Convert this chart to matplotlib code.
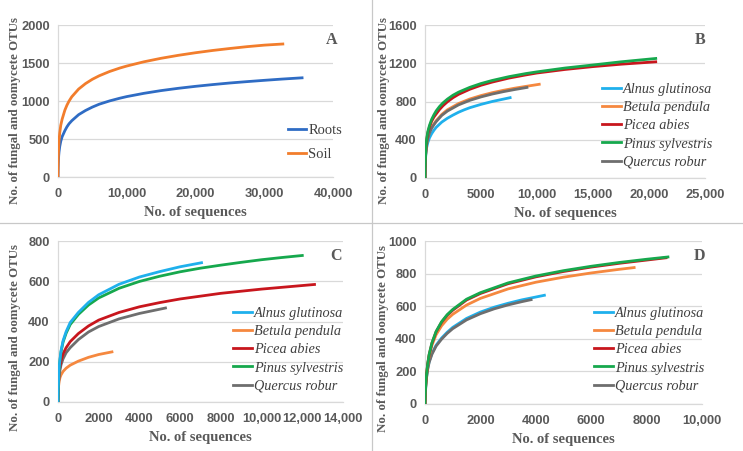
import matplotlib
matplotlib.use("Agg")
import matplotlib.pyplot as plt
from matplotlib.lines import Line2D

# ---- data (x = no. of sequences, y = OTUs) ----
roots_x = [0, 20, 50, 100, 150, 250, 400, 600, 1000, 1300, 1600, 2000, 3000, 4000, 5000, 6000, 7500,
           9000, 10000, 12500, 15000, 17500, 20000, 22500, 25000, 27500, 30000, 32500, 35500]
roots_y = [0, 110, 190, 280, 330, 400, 470, 530, 610, 660, 700, 740, 820, 875, 920, 958, 1001,
           1037, 1058, 1101, 1137, 1167, 1193, 1216, 1237, 1255, 1272, 1288, 1305]
soil_x = [0, 20, 50, 100, 150, 250, 400, 600, 1000, 1300, 1600, 2000, 3000, 4000, 5000, 6000, 7500,
          9000, 10000, 12500, 15000, 17500, 20000, 22500, 25000, 27500, 30000, 32700]
soil_y = [0, 140, 270, 400, 480, 580, 680, 760, 880, 945, 998, 1055, 1157, 1229, 1286, 1332, 1388,
          1434, 1460, 1516, 1562, 1601, 1635, 1665, 1691, 1715, 1735, 1750]

b_alnus_x = [0, 10, 30, 60, 100, 150, 250, 400, 600, 800, 1000, 1500, 2000, 2500, 3000, 3500, 4000,
             5000, 6000, 7000, 7600]
b_alnus_y = [0, 80, 150, 225, 280, 320, 370, 420, 465, 500, 530, 585, 625, 658, 688, 713, 735,
             770, 800, 825, 840]
b_betula_x = [0, 10, 30, 60, 100, 150, 250, 400, 600, 800, 1000, 1500, 2000, 3000, 4000, 5000, 6000,
              7000, 8000, 9000, 10200]
b_betula_y = [0, 90, 160, 250, 310, 360, 420, 480, 530, 565, 600, 665, 713, 779, 826, 862, 892,
              917, 939, 958, 980]
b_picea_x = [0, 10, 30, 60, 100, 150, 250, 400, 600, 800, 1000, 1300, 1600, 2000, 2500, 3000, 4000,
             5000, 6000, 7500, 9000, 10000, 12500, 15000, 17500, 20600]
b_picea_y = [0, 95, 170, 250, 335, 395, 470, 535, 595, 638, 670, 717, 755, 797, 840, 875, 928,
             970, 1003, 1045, 1078, 1098, 1135, 1165, 1190, 1215]
b_pinus_x = [0, 10, 30, 60, 100, 150, 250, 400, 600, 800, 1000, 1300, 1600, 2000, 2500, 3000, 4000,
             5000, 6000, 7500, 9000, 10000, 12500, 15000, 17500, 20600]
b_pinus_y = [0, 100, 175, 260, 350, 410, 485, 550, 615, 662, 702, 748, 785, 825, 866, 898, 948,
             988, 1020, 1060, 1092, 1110, 1150, 1182, 1215, 1250]
b_quercus_x = [0, 10, 30, 60, 100, 150, 250, 400, 600, 800, 1000, 1500, 2000, 3000, 4000, 5000, 6000,
               7000, 8000, 9100]
b_quercus_y = [0, 88, 158, 245, 305, 352, 412, 472, 522, 558, 590, 655, 700, 765, 812, 848, 878,
               903, 925, 947]

c_alnus_x = [0, 10, 30, 60, 100, 150, 250, 400, 600, 1000, 1500, 2000, 3000, 4000, 5000, 6000, 7050]
c_alnus_y = [0, 60, 120, 175, 215, 255, 305, 350, 395, 445, 495, 533, 585, 621, 648, 672, 692]
c_betula_x = [0, 10, 30, 60, 100, 150, 250, 400, 600, 1000, 1500, 2000, 2650]
c_betula_y = [0, 45, 80, 105, 122, 135, 152, 168, 183, 203, 222, 236, 249]
c_picea_x = [0, 10, 30, 60, 100, 150, 250, 400, 600, 1000, 1500, 2000, 3000, 4000, 5000, 6000, 8000,
             10000, 12600]
c_picea_y = [0, 55, 105, 150, 180, 205, 240, 270, 300, 340, 378, 407, 445, 473, 494, 512, 540,
             561, 584]
c_pinus_x = [0, 10, 30, 60, 100, 150, 250, 400, 600, 1000, 1500, 2000, 3000, 4000, 5000, 6000, 7000,
             8000, 9000, 10000, 11000, 12000]
c_pinus_y = [0, 58, 115, 170, 210, 250, 298, 342, 385, 435, 482, 517, 565, 599, 625, 647, 665,
             680, 694, 707, 718, 728]
c_quercus_x = [0, 10, 30, 60, 100, 150, 250, 400, 600, 1000, 1500, 2000, 3000, 4000, 5280]
c_quercus_y = [0, 50, 95, 130, 160, 185, 215, 245, 270, 310, 348, 375, 413, 440, 467]

d_alnus_x = [0, 10, 30, 60, 100, 150, 250, 400, 600, 800, 1000, 1500, 2000, 2500, 3000, 3500, 4310]
d_alnus_y = [0, 58, 115, 170, 220, 260, 310, 360, 405, 440, 470, 525, 564, 594, 618, 639, 667]
d_betula_x = [0, 10, 30, 60, 100, 150, 250, 400, 600, 800, 1000, 1500, 2000, 3000, 4000, 5000, 6000,
              7000, 7550]
d_betula_y = [0, 62, 125, 185, 242, 295, 360, 425, 480, 520, 550, 607, 648, 706, 747, 778, 804,
              826, 837]
d_picea_x = [0, 10, 30, 60, 100, 150, 250, 400, 600, 800, 1000, 1500, 2000, 3000, 4000, 5000, 6000,
             7000, 8000, 8700]
d_picea_y = [0, 64, 128, 188, 248, 302, 372, 442, 502, 544, 575, 638, 678, 738, 780, 813, 840,
             863, 883, 897]
d_pinus_x = [0, 10, 30, 60, 100, 150, 250, 400, 600, 800, 1000, 1500, 2000, 3000, 4000, 5000, 6000,
             7000, 8000, 8770]
d_pinus_y = [0, 65, 130, 190, 250, 305, 375, 445, 505, 548, 580, 643, 683, 743, 785, 818, 845,
             868, 888, 902]
d_quercus_x = [0, 10, 30, 60, 100, 150, 250, 400, 600, 800, 1000, 1500, 2000, 2500, 3000, 3500, 3830]
d_quercus_y = [0, 56, 112, 166, 215, 255, 305, 355, 398, 433, 462, 516, 554, 584, 608, 628, 640]

groups = ["Roots", "Soil"]
species = ["Alnus glutinosa", "Betula pendula", "Picea abies", "Pinus sylvestris", "Quercus robur"]

a_xticks = [0, 10000, 20000, 30000, 40000]
a_xlabels = ["0", "10,000", "20,000", "30,000", "40,000"]
a_yticks = [0, 500, 1000, 1500, 2000]
b_xticks = [0, 5000, 10000, 15000, 20000, 25000]
b_xlabels = ["0", "5000", "10,000", "15,000", "20,000", "25,000"]
b_yticks = [0, 400, 800, 1200, 1600]
c_xticks = [0, 2000, 4000, 6000, 8000, 10000, 12000, 14000]
c_xlabels = ["0", "2000", "4000", "6000", "8000", "10,000", "12,000", "14,000"]
c_yticks = [0, 200, 400, 600, 800]
d_xticks = [0, 2000, 4000, 6000, 8000, 10000]
d_xlabels = ["0", "2000", "4000", "6000", "8000", "10,000"]
d_yticks = [0, 200, 400, 600, 800, 1000]

# ---- styling ----
COLORS = ["#1fb0ec", "#f5883f", "#c8161d", "#16a84d", "#6e6e6e"]
ROOTS_COLOR = "#2f6cc4"
SOIL_COLOR = "#f27d2c"
GREY_TXT = "#595959"
GRID = "#d9d9d9"
LW = 2.0

W, H = 743, 451
fig = plt.figure(figsize=(W / 100, H / 100), dpi=100)


def box(l, t, r, b):
    # pixel box -> figure fraction
    return [l / W, 1 - b / H, (r - l) / W, (b - t) / H]


def style(ax, xticks, xlabels, yticks, letter, ylab_pos, letter_pos):
    ax.set_xlim(xticks[0], xticks[-1])
    ax.set_ylim(yticks[0], yticks[-1])
    ax.set_xticks(xticks)
    ax.set_xticklabels(xlabels)
    ax.set_yticks(yticks)
    for lab in ax.get_xticklabels() + ax.get_yticklabels():
        lab.set_fontfamily("Liberation Sans")
        lab.set_fontweight("bold")
        lab.set_fontsize(9.3)
        lab.set_color(GREY_TXT)
    ax.tick_params(length=0)
    ax.tick_params(axis="x", pad=8)
    ax.tick_params(axis="y", pad=6)
    ax.grid(axis="y", color=GRID, linewidth=0.9, zorder=0)
    ax.set_axisbelow(True)
    for s in ["top", "right"]:
        ax.spines[s].set_visible(False)
    for s in ["left", "bottom"]:
        ax.spines[s].set_color(GRID)
        ax.spines[s].set_linewidth(0.9)
    ax.set_xlabel("No. of sequences", fontfamily="Liberation Serif", fontweight="bold",
                  fontsize=10.5, color=GREY_TXT, labelpad=4)
    ax.set_ylabel("No. of fungal and oomycete OTUs", fontfamily="Liberation Serif",
                  fontweight="bold", fontsize=9.3, color=GREY_TXT)
    ax.yaxis.set_label_coords(*ylab_pos)
    ax.text(letter_pos[0], letter_pos[1], letter, transform=ax.transAxes, ha="right", va="top",
            fontfamily="Liberation Serif", fontweight="bold", fontsize=11.5, color=GREY_TXT)


def legend(ax, labels, colors, anchor, spacing, size, style_="italic", hlen=1.3):
    handles = [Line2D([], [], color=c, lw=LW) for c in colors]
    leg = ax.legend(handles, labels, loc="upper left", bbox_to_anchor=anchor,
                    bbox_transform=fig.transFigure, frameon=False, handlelength=hlen,
                    handletextpad=0.15, labelspacing=spacing, borderpad=0, borderaxespad=0,
                    prop={"family": "Liberation Serif", "style": style_, "size": size})
    for t in leg.get_texts():
        t.set_color("#404040")


# Panel A
axA = fig.add_axes(box(58, 25, 333, 177))
axA.plot(roots_x, roots_y, color=ROOTS_COLOR, lw=LW, zorder=3)
axA.plot(soil_x, soil_y, color=SOIL_COLOR, lw=LW, zorder=3)
style(axA, a_xticks, a_xlabels, a_yticks, "A", (-37 / 275, 0.44), (1.015, 0.955))
legend(axA, groups, [ROOTS_COLOR, SOIL_COLOR], (288 / W, 1 - 124 / H), 0.72, 10.5,
       style_="normal", hlen=1.25)

# Panel B
axB = fig.add_axes(box(425, 25, 705, 178))
for xs, ys, c in zip([b_alnus_x, b_betula_x, b_quercus_x, b_picea_x, b_pinus_x],
                     [b_alnus_y, b_betula_y, b_quercus_y, b_picea_y, b_pinus_y],
                     [COLORS[0], COLORS[1], COLORS[4], COLORS[2], COLORS[3]]):
    axB.plot(xs, ys, color=c, lw=LW, zorder=3)
style(axB, b_xticks, b_xlabels, b_yticks, "B", (-35 / 280, 0.44), (1.0, 0.955))
legend(axB, species, COLORS, (602 / W, 1 - 83 / H), 0.36, 10.3)

# Panel C
axC = fig.add_axes(box(58, 241, 343, 402))
for xs, ys, c in zip([c_betula_x, c_quercus_x, c_picea_x, c_pinus_x, c_alnus_x],
                     [c_betula_y, c_quercus_y, c_picea_y, c_pinus_y, c_alnus_y],
                     [COLORS[1], COLORS[4], COLORS[2], COLORS[3], COLORS[0]]):
    axC.plot(xs, ys, color=c, lw=LW, zorder=3)
style(axC, c_xticks, c_xlabels, c_yticks, "C", (-37 / 285, 0.40), (0.997, 0.957))
legend(axC, species, COLORS, (233 / W, 1 - 307 / H), 0.36, 10.3)

# Panel D
axD = fig.add_axes(box(425, 241, 702, 404))
for xs, ys, c in zip([d_alnus_x, d_quercus_x, d_betula_x, d_picea_x, d_pinus_x],
                     [d_alnus_y, d_quercus_y, d_betula_y, d_picea_y, d_pinus_y],
                     [COLORS[0], COLORS[4], COLORS[1], COLORS[2], COLORS[3]]):
    axD.plot(xs, ys, color=c, lw=LW, zorder=3)
style(axD, d_xticks, d_xlabels, d_yticks, "D", (-36 / 277, 0.40), (1.01, 0.957))
legend(axD, species, COLORS, (594 / W, 1 - 307 / H), 0.36, 10.3)

# panel separators
fig.add_artist(Line2D([372 / W, 372 / W], [0, 1], color="#c8c8c8", lw=0.9))
fig.add_artist(Line2D([0, 1], [1 - 223 / H, 1 - 223 / H], color="#c8c8c8", lw=0.9))

fig.savefig("out.png", dpi=100)
